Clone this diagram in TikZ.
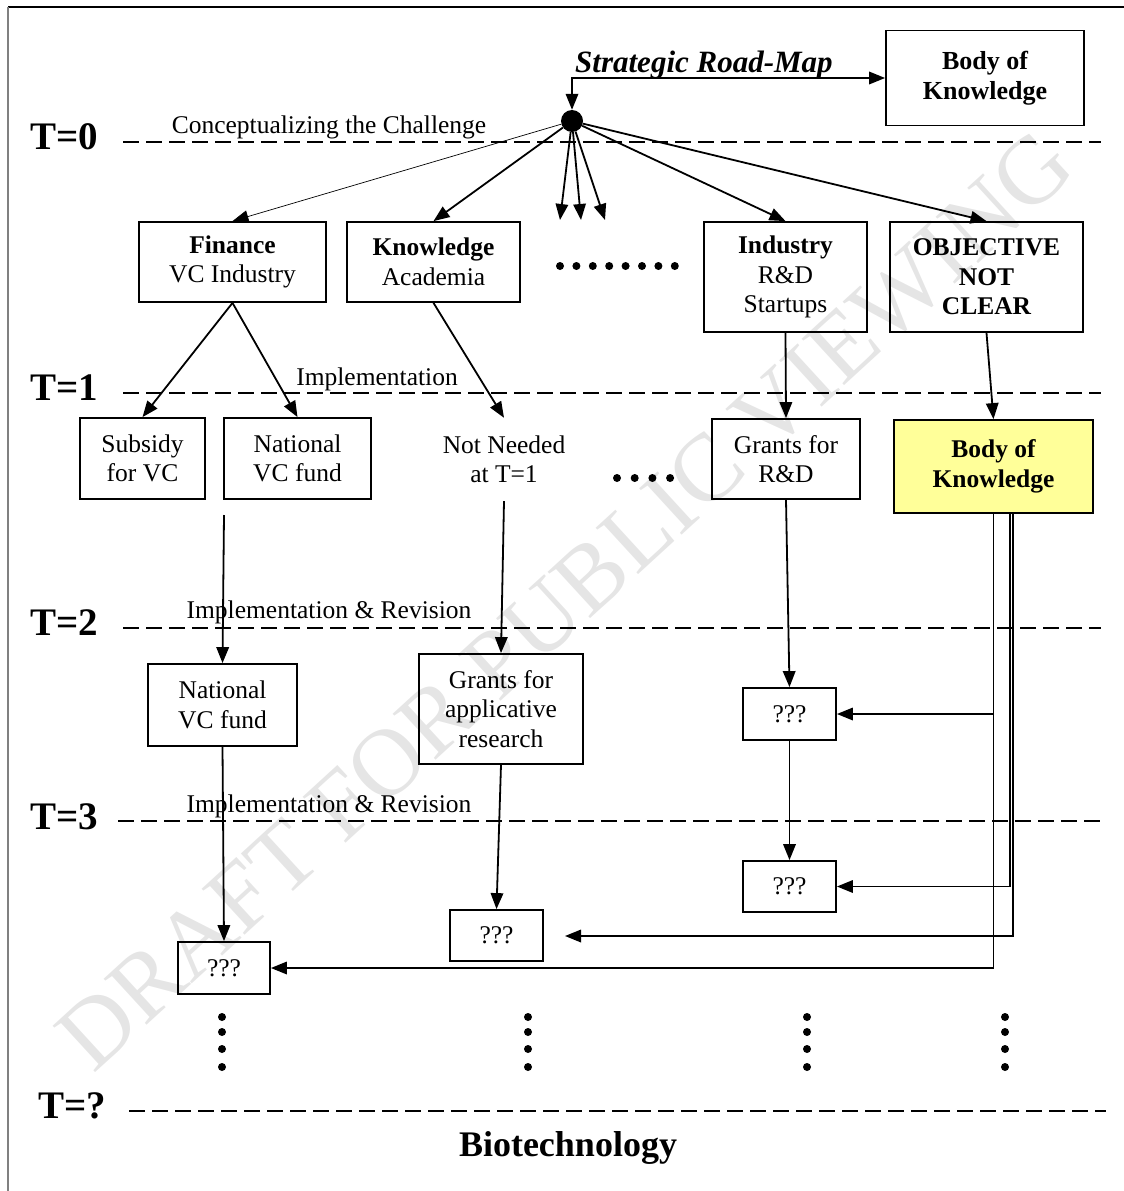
\documentclass[tikz,border=0pt]{standalone}
\usepackage{fontspec}
\setmainfont{Liberation Serif}
\usetikzlibrary{arrows.meta}
\definecolor{paleyellow}{RGB}{255,255,153}
\begin{document}
\begin{tikzpicture}[x=1pt,y=-1pt,
  txt/.style={font=\fontsize{25.5}{29.5}\selectfont, inner sep=0pt},
  box/.style={txt, draw, line width=1.8pt, align=center},
  tlab/.style={font=\fontsize{39}{42}\selectfont\bfseries, inner sep=0pt, anchor=base west},
  phase/.style={line width=1.9pt, dash pattern=on 16pt off 7pt},
  tip/.style={-{Triangle[length=16pt,width=12.5pt]}},
  conn/.style={line width=1.8pt, tip},
  thinconn/.style={line width=0.7pt, tip},
]
\useasboundingbox (0,0) rectangle (1124,1191);
% watermark
\node[rotate=42.5, text=black!10, font=\fontsize{96}{98}\selectfont, inner sep=0pt] (wm) at (565,600) {DRAFT FOR PUBLIC VIEWING};
% frame
\draw[line width=1.2pt] (8,7) -- (1124,7);
\draw[gray, line width=2pt] (8,7) -- (8,1191);

% phase lines and labels
\node[tlab] (t0) at (30,149) {T=0};
\node[tlab] (t1) at (30,400) {T=1};
\node[tlab] (t2) at (30,635) {T=2};
\node[tlab] (t3) at (30,829) {T=3};
\node[tlab] (tq) at (38,1118) {T=?};
\draw[phase] (123,142) -- (1101,142);
\draw[phase] (123,393) -- (1101,393);
\draw[phase] (123,628) -- (1101,628);
\draw[phase] (118,821) -- (1101,821);
\draw[phase] (129,1111) -- (1106,1111);
\node[txt, anchor=base] (l0) at (329,133) {Conceptualizing the Challenge};
\node[txt, anchor=base] (l1) at (377,385) {Implementation};
\node[txt, anchor=base] (l2) at (329,618) {Implementation \& Revision};
\node[txt, anchor=base] (l3) at (329,812) {Implementation \& Revision};

% top
\node[inner sep=0pt, anchor=base west, font=\fontsize{31}{33}\selectfont\bfseries\itshape] (srm) at (575,72) {Strategic Road-Map};
\node[box, font=\fontsize{26}{30}\selectfont\bfseries, minimum width=198pt, minimum height=95pt] (bok) at (985,78) {Body of\\Knowledge};
\node[circle, fill, inner sep=0pt, minimum size=22pt] (hub) at (572,121) {};
\draw[line width=1.8pt, {Triangle[length=16pt,width=12.5pt]}-{Triangle[length=16pt,width=12.5pt]}] (hub.north) |- (bok.west);

% T=0 boxes
\node[box, minimum width=187pt, minimum height=80pt] (fin) at (232.5,262) {\textbf{Finance}\\VC Industry};
\node[box, minimum width=173pt, minimum height=80pt] (kno) at (433.5,262) {\textbf{Knowledge}\\Academia};
\node[box, minimum width=163pt, minimum height=110pt] (ind) at (785.5,277) {\textbf{Industry}\\R\&D\\Startups};
\node[box, font=\fontsize{25.5}{29.5}\selectfont\bfseries, minimum width=193pt, minimum height=110pt] (obj) at (986.5,277) {OBJECTIVE\\NOT\\CLEAR};
\coordinate (s1) at (560,220);
\coordinate (s2) at (581,220);
\coordinate (s3) at (605,220);
\draw[thinconn] (hub) -- (fin.north);
\draw[conn] (hub) -- (kno.north);
\draw[conn] (hub) -- (s1);
\draw[conn] (hub) -- (s2);
\draw[conn] (hub) -- (s3);
\draw[conn] (hub) -- (ind.north);
\draw[conn] (hub) -- (obj.north);
\foreach \i in {0,...,7} \fill (560+\i*16.4,266) circle (4pt);

% T=1 boxes
\node[box, minimum width=125pt, minimum height=81pt] (sub) at (142.5,458.5) {Subsidy\\for VC};
\node[box, minimum width=147pt, minimum height=81pt] (nvc1) at (297.5,458.5) {National\\VC fund};
\node[txt, align=center, minimum height=83pt] (nn) at (504,459.5) {Not Needed\\at T=1};
\node[box, minimum width=148pt, minimum height=80pt] (grd) at (786,459) {Grants for\\R\&D};
\node[box, fill=paleyellow, font=\fontsize{25.5}{29.5}\selectfont\bfseries, minimum width=199pt, minimum height=93pt] (ybok) at (993.5,466.5) {Body of\\Knowledge};
\foreach \i in {0,...,3} \fill (617+\i*17.7,478) circle (4pt);
\draw[conn] (fin.south) -- (sub.north);
\draw[conn] (fin.south) -- (nvc1.north);
\draw[conn] (kno.south) -- (nn.north);
\draw[conn] (ind.south) -- (grd.north);
\draw[conn] (obj.south) -- (ybok.north);

% T=2 boxes
\node[box, minimum width=149pt, minimum height=82pt] (nvc2) at (222.5,705) {National\\VC fund};
\node[box, minimum width=164pt, minimum height=110pt] (gapp) at (501,709) {Grants for\\applicative\\research};
\node[box, minimum width=93pt, minimum height=52pt] (q1) at (789.5,714) {???};
\coordinate (nvcstart) at (224,515);
\draw[conn] (nvcstart) -- (nvc2.north);
\draw[conn] (nn.south) -- (gapp.north);
\draw[conn] (grd.south) -- (q1.north);

% T=3 boxes
\node[box, minimum width=93pt, minimum height=51pt] (q2) at (789.5,886.5) {???};
\node[box, minimum width=93pt, minimum height=51pt] (q3) at (496.5,935.5) {???};
\node[box, minimum width=92pt, minimum height=52pt] (q4) at (224,968) {???};
\draw[conn] (q1.south) -- (q2.north);
\draw[conn] (gapp.south) -- (q3.north);
\draw[conn] (nvc2.south) -- (q4.north);

% feedback lines from yellow body of knowledge
\coordinate (q3in) at (565,936);
\draw[conn] (ybok.south) |- (q4.east);
\draw[conn] (ybok.south |- q1.east) -- (q1.east);
\draw[conn] ([xshift=16.5pt]ybok.south) |- (q2.east);
\draw[conn] ([xshift=19.5pt]ybok.south) |- (q3in);

% vertical continuation dots
\foreach \x in {222,528,807,1005}
  \foreach \y in {1017,1032,1049,1067}
    \fill (\x,\y) circle (4pt);

\node[inner sep=0pt, anchor=base, font=\fontsize{36}{38}\selectfont\bfseries] (bio) at (568,1156) {Biotechnology};
\end{tikzpicture}
\end{document}
